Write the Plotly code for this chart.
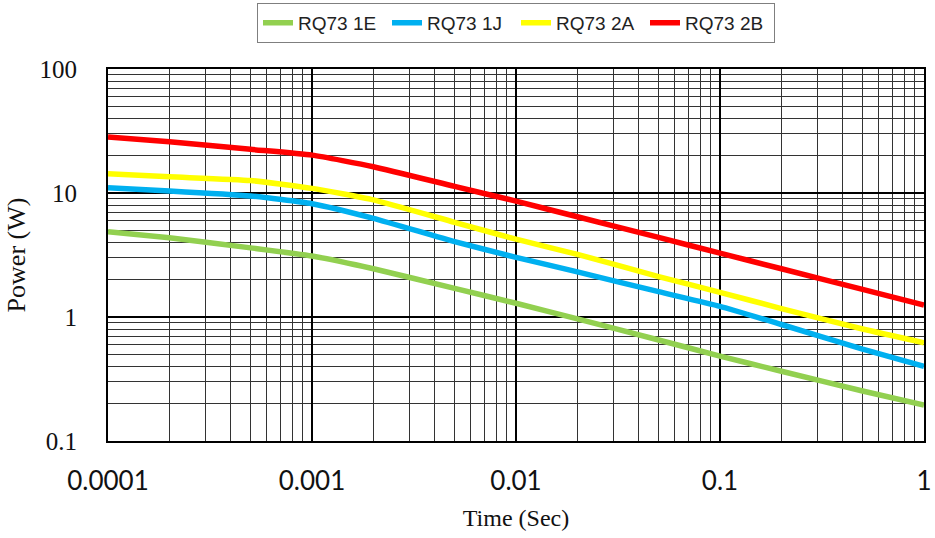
import plotly.graph_objects as go

# Data
time_s = [1e-4, 2e-4, 5e-4, 1e-3, 2e-3, 5e-3, 1e-2, 2e-2, 5e-2, 0.1, 0.2, 0.5, 1.0]
p_1E = [4.88, 4.35, 3.61, 3.10, 2.45, 1.70, 1.29, 0.966, 0.652, 0.484, 0.365, 0.253, 0.195]
p_1J = [11.0, 10.4, 9.46, 8.2, 6.25, 4.05, 3.03, 2.31, 1.60, 1.22, 0.87, 0.55, 0.40]
p_2A = [14.3, 13.5, 12.6, 10.9, 8.8, 5.8, 4.24, 3.2, 2.12, 1.58, 1.17, 0.80, 0.62]
p_2B = [28.3, 25.9, 22.5, 20.2, 16.3, 11.3, 8.6, 6.43, 4.38, 3.27, 2.45, 1.67, 1.25]

series_names = ["RQ73 1E", "RQ73 1J", "RQ73 2A", "RQ73 2B"]
series_vals = [p_1E, p_1J, p_2A, p_2B]
colors = ["#92D050", "#00B0F0", "#FFFF00", "#FF0000"]

x_tickvals = [1e-4, 1e-3, 1e-2, 1e-1, 1]
x_ticktext = ["0.0001", "0.001", "0.01", "0.1", "1"]
y_tickvals = [0.1, 1, 10, 100]
y_ticktext = ["0.1", "1", "10", "100"]

x_minor = [m * 10.0 ** e for e in range(-4, 0) for m in range(2, 10)]
y_minor = [m * 10.0 ** e for e in range(-1, 2) for m in range(2, 10)]

fig = go.Figure()
for name, vals, c in zip(series_names, series_vals, colors):
    fig.add_trace(go.Scatter(x=time_s, y=vals, name=name, mode="lines",
                             line=dict(color=c, width=5.5, shape="spline", smoothing=0.5)))

serif = "Liberation Serif, Times New Roman, serif"
fig.update_layout(
    width=935, height=538,
    margin=dict(l=108, r=11, t=69, b=97, autoexpand=False),
    paper_bgcolor="white", plot_bgcolor="white",
    showlegend=True,
    legend=dict(orientation="h", x=0.5, xanchor="center", y=1.178, yanchor="top",
                bordercolor="#7f7f7f", borderwidth=1,
                font=dict(family="Liberation Sans, Arial, sans-serif", size=19, color="#222"),
                itemwidth=30, entrywidth=84, tracegroupgap=0),
    xaxis=dict(type="log", range=[-4, 0], automargin=False,
               tickmode="array", tickvals=x_tickvals, ticktext=x_ticktext,
               tickfont=dict(family="Lato, sans-serif", size=26, color="#111"),
               ticks="", ticklabelstandoff=16,
               showgrid=True, gridcolor="black", gridwidth=2,
               minor=dict(tickvals=x_minor, showgrid=True, gridcolor="#333", gridwidth=1, ticks=""),
               showline=True, mirror=True, linecolor="black", linewidth=2,
               title=dict(text="Time (Sec)", font=dict(family=serif, size=24, color="#111"), standoff=14),
               zeroline=False),
    yaxis=dict(type="log", range=[-1, 2], automargin=False,
               tickmode="array", tickvals=y_tickvals, ticktext=y_ticktext,
               tickfont=dict(family=serif, size=25, color="#111"),
               ticks="", ticklabelstandoff=24,
               showgrid=True, gridcolor="black", gridwidth=2,
               minor=dict(tickvals=y_minor, showgrid=True, gridcolor="#333", gridwidth=1, ticks=""),
               showline=True, mirror=True, linecolor="black", linewidth=2,
               title=dict(text="Power (W)", font=dict(family=serif, size=26, color="#111"), standoff=6),
               zeroline=False),
)

fig.write_html("out.html", config={"displayModeBar": False},
               post_script="document.body.style.margin='0';document.body.style.overflow='hidden';")
